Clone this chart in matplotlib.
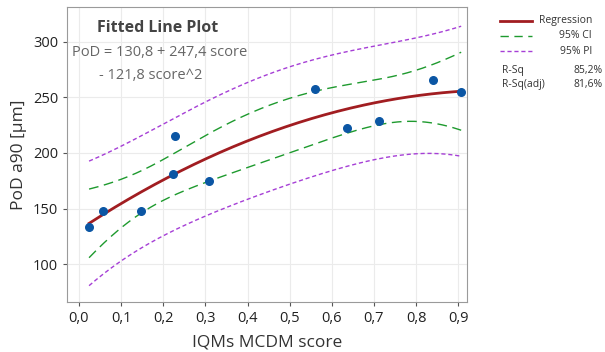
import numpy as np
import matplotlib
matplotlib.use('Agg')
import matplotlib.pyplot as plt

plt.rcParams['font.family'] = ['Open Sans', 'DejaVu Sans']

# data
score = [0.024, 0.056, 0.147, 0.223, 0.228, 0.309, 0.560, 0.637, 0.711, 0.840, 0.907]
pod = [133.7, 147.8, 147.8, 180.6, 215.2, 174.9, 257.0, 222.4, 229.0, 265.7, 254.3]
xticks = [0.0, 0.1, 0.2, 0.3, 0.4, 0.5, 0.6, 0.7, 0.8, 0.9]
yticks = [100, 150, 200, 250, 300]

x = np.array(score)
y = np.array(pod)

# quadratic fit with 95% CI / PI bands
X = np.column_stack([np.ones_like(x), x, x**2])
beta, *_ = np.linalg.lstsq(X, y, rcond=None)
resid = y - X @ beta
n, p = X.shape
s2 = resid @ resid / (n - p)
XtXi = np.linalg.inv(X.T @ X)
t = 2.306  # t(0.975, 8)

xs = np.linspace(x.min(), x.max(), 200)
Xs = np.column_stack([np.ones_like(xs), xs, xs**2])
fit = Xs @ beta
h = np.einsum('ij,jk,ik->i', Xs, XtXi, Xs)
ci = t * np.sqrt(s2 * h)
pi = t * np.sqrt(s2 * (1 + h))

fig = plt.figure(figsize=(6.05, 3.52), dpi=100)
ax = fig.add_axes([0.111, 0.142, 0.661, 0.838])

red = '#A11D21'
green = '#1E9A2E'
purple = '#A63FD6'

ax.plot(xs, pi + fit, color=purple, lw=1, dashes=(3, 2), label='95% PI')
ax.plot(xs, fit - pi, color=purple, lw=1, dashes=(3, 2))
ax.plot(xs, fit + ci, color=green, lw=1, dashes=(7, 4), label='95% CI')
ax.plot(xs, fit - ci, color=green, lw=1, dashes=(7, 4))
ax.plot(xs, fit, color=red, lw=2, label='Regression')
ax.scatter(x, y, s=30, color='#0B56A4', zorder=5)

ax.set_xlim(-0.028, 0.921)
ax.set_ylim(66, 331)
ax.set_xticks(xticks)
ax.set_xticklabels([('%.1f' % v).replace('.', ',') for v in xticks])
ax.set_yticks(yticks)
ax.grid(True, color='#EBEBEB', lw=0.8)
ax.set_axisbelow(True)
for sp in ax.spines.values():
    sp.set_color('#9A9A9A')
ax.tick_params(colors='#555555', labelcolor='#222222', labelsize=10.5, length=3)

ax.set_xlabel('IQMs MCDM score', fontsize=12.5, color='#333333', labelpad=6)
ax.set_ylabel('PoD a90 [µm]', fontsize=12.5, color='#333333', labelpad=4)

ax.text(0.075, 0.955, 'Fitted Line Plot', transform=ax.transAxes, fontsize=11.5,
        fontweight='bold', color='#444444', va='top')
ax.text(0.012, 0.87, 'PoD = 130,8 + 247,4 score', transform=ax.transAxes, fontsize=10.5,
        color='#666666', va='top')
ax.text(0.08, 0.795, '- 121,8 score^2', transform=ax.transAxes, fontsize=10.5,
        color='#666666', va='top')

# legend block
def key(yy, col, dash, lw, label):
    ln = matplotlib.lines.Line2D([500 / 605, 532 / 605], [yy, yy], transform=fig.transFigure,
                                 color=col, lw=lw)
    if dash:
        ln.set_dashes(dash)
    fig.add_artist(ln)
    fig.text(592 / 605, yy, label, ha='right', va='center', fontsize=7.5, color='#333333')

key(1 - 21 / 352, red, None, 2, 'Regression')
key(1 - 36 / 352, green, (6, 4), 1, '95% CI')
key(1 - 51 / 352, purple, (3, 2), 1, '95% PI')
fig.text(502 / 605, 1 - 70 / 352, 'R-Sq', ha='left', va='center', fontsize=7.5, color='#333333')
fig.text(603 / 605, 1 - 70 / 352, '85,2%', ha='right', va='center', fontsize=7.5, color='#333333')
fig.text(502 / 605, 1 - 85 / 352, 'R-Sq(adj)', ha='left', va='center', fontsize=7.5, color='#333333')
fig.text(603 / 605, 1 - 85 / 352, '81,6%', ha='right', va='center', fontsize=7.5, color='#333333')

fig.savefig('out.png', dpi=100)
